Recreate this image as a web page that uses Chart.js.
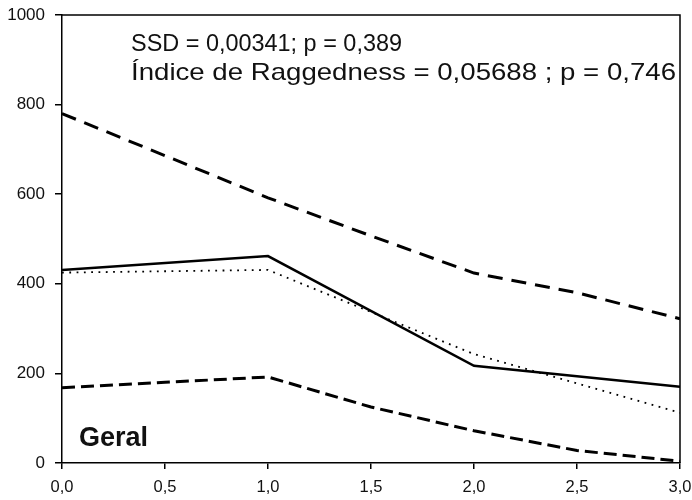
<!DOCTYPE html>
<html>
<head>
<meta charset="utf-8">
<script src="https://cdn.jsdelivr.net/npm/chart.js@4/dist/chart.umd.min.js"></script>
<style>
  html, body { margin: 0; padding: 0; background: #ffffff; }
  #wrap { width: 692px; height: 500px; position: relative; }
</style>
</head>
<body>
<div id="wrap"><canvas id="c" width="692" height="500"></canvas></div>
<script>
// ---- data ----
const xTickValues = [0, 0.5, 1, 1.5, 2, 2.5, 3];
const yTickValues = [0, 200, 400, 600, 800, 1000];

const upperX = [0, 0.5, 1, 1.5, 2, 2.5, 3];
const upperY = [780, 686, 592, 507, 424, 380, 322];

const lowerX = [0, 0.5, 1, 1.5, 2, 2.5, 3];
const lowerY = [168, 180, 192, 125, 72, 28, 4];

const observedX = [0, 1, 2, 3];
const observedY = [431, 462, 217, 170];

const expectedX = [0, 1, 2, 3];
const expectedY = [425, 431, 243, 112];

const annotLine1 = 'SSD = 0,00341; p = 0,389';
const annotLine2 = 'Índice de Raggedness = 0,05688 ; p = 0,746';
const panelLabel = 'Geral';

function pts(xs, ys) { return xs.map((x, i) => ({ x: x, y: ys[i] })); }

const FONT = '"Liberation Sans", Arial, sans-serif';
const INK = '#111111';

function fitText(ctx, text, x, y, width) {
  const w = ctx.measureText(text).width;
  ctx.save();
  ctx.translate(x, y);
  ctx.scale(width / w, 1);
  ctx.fillText(text, 0, 0);
  ctx.restore();
}

const framePlugin = {
  id: 'frame',
  afterDraw(chart) {
    const { ctx, chartArea: a } = chart;
    ctx.save();
    ctx.strokeStyle = '#000';
    ctx.lineWidth = 1.5;
    ctx.beginPath();
    ctx.moveTo(a.left, a.top);
    ctx.lineTo(a.right, a.top);
    ctx.lineTo(a.right, a.bottom);
    ctx.stroke();
    ctx.fillStyle = INK;
    ctx.textBaseline = 'alphabetic';
    ctx.textAlign = 'left';
    ctx.font = '24px ' + FONT;
    fitText(ctx, annotLine1, 131, 51, 271);
    fitText(ctx, annotLine2, 131, 80, 545);
    ctx.font = 'bold 27px ' + FONT;
    ctx.fillText(panelLabel, 79, 446);
    ctx.restore();
  }
};

new Chart(document.getElementById('c'), {
  type: 'line',
  data: {
    datasets: [
      { data: pts(upperX, upperY), borderColor: '#000', borderWidth: 3, borderDash: [15, 9], pointRadius: 0, tension: 0 },
      { data: pts(lowerX, lowerY), borderColor: '#000', borderWidth: 3, borderDash: [13, 6], pointRadius: 0, tension: 0 },
      { data: pts(observedX, observedY), borderColor: '#000', borderWidth: 2.5, pointRadius: 0, tension: 0 },
      { data: pts(expectedX, expectedY), borderColor: '#000', borderWidth: 1.8, borderDash: [1.8, 5.5], pointRadius: 0, tension: 0 }
    ]
  },
  options: {
    responsive: false,
    animation: false,
    events: [],
    layout: { padding: { top: 15, right: 12, left: 0, bottom: 0 } },
    plugins: { legend: { display: false }, tooltip: { enabled: false } },
    scales: {
      x: {
        type: 'linear',
        min: 0, max: 3,
        afterBuildTicks(s) { s.ticks = xTickValues.map(v => ({ value: v })); },
        afterFit(s) { s.height = 37; s.paddingLeft = 0; s.paddingRight = 0; },
        grid: { drawOnChartArea: false, drawTicks: true, tickLength: 6, color: '#000', lineWidth: 1.5 },
        border: { display: true, color: '#000', width: 1.5 },
        ticks: {
          color: INK, padding: 9, maxRotation: 0, autoSkip: false,
          font: { family: FONT, size: 16.5 },
          callback: v => v.toFixed(1).replace('.', ',')
        }
      },
      y: {
        type: 'linear',
        min: 0, max: 1000,
        afterBuildTicks(s) { s.ticks = yTickValues.map(v => ({ value: v })); },
        afterFit(s) { s.width = 62; s.paddingTop = 0; s.paddingBottom = 0; },
        grid: { drawOnChartArea: false, drawTicks: true, tickLength: 7, color: '#000', lineWidth: 1.5 },
        border: { display: true, color: '#000', width: 1.5 },
        ticks: {
          color: INK, padding: 10, autoSkip: false,
          font: { family: FONT, size: 17 },
          callback: v => String(v)
        }
      }
    }
  },
  plugins: [framePlugin]
});
</script>
</body>
</html>
